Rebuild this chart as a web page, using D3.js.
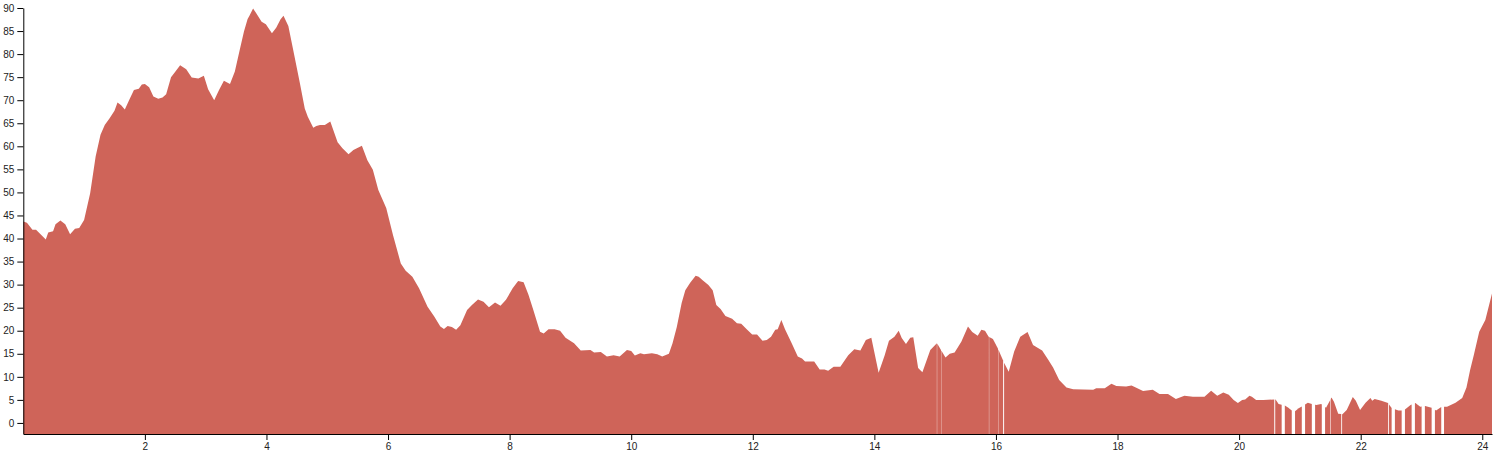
<!DOCTYPE html>
<html>
<head>
<meta charset="utf-8">
<script src="https://cdn.jsdelivr.net/npm/d3@7"></script>
<style>
  html, body { margin: 0; padding: 0; background: #fff; }
  svg { display: block; }
  .axis text { font-family: "Liberation Sans", Arial, sans-serif; font-size: 10px; fill: #222; }
</style>
</head>
<body>
<svg id="chart" width="1496" height="454"></svg>
<script>
// ---- data ----
const times = [
  0.00,0.06,0.15,0.21,0.37,0.41,0.49,0.53,0.61,0.69,0.77,0.85,0.92,1.00,1.10,1.19,1.27,1.34,1.42,1.50,
  1.55,1.61,1.67,1.74,1.82,1.90,1.95,2.00,2.07,2.14,2.22,2.29,2.35,2.43,2.49,2.58,2.68,2.77,2.88,2.97,
  3.04,3.14,3.22,3.30,3.40,3.48,3.56,3.63,3.69,3.72,3.78,3.85,3.92,3.99,4.09,4.16,4.23,4.28,4.36,4.44,
  4.55,4.63,4.68,4.77,4.82,4.88,4.96,5.05,5.17,5.25,5.35,5.43,5.57,5.66,5.75,5.84,5.97,6.08,6.21,6.29,
  6.40,6.51,6.65,6.76,6.86,6.92,6.98,7.05,7.12,7.19,7.30,7.38,7.48,7.57,7.66,7.76,7.85,7.94,8.05,8.14,
  8.23,8.31,8.39,8.50,8.56,8.64,8.74,8.83,8.92,9.06,9.17,9.33,9.39,9.50,9.60,9.71,9.81,9.93,10.00,10.06,
  10.15,10.21,10.34,10.43,10.51,10.62,10.68,10.75,10.83,10.89,10.97,11.06,11.11,11.18,11.27,11.34,11.40,11.47,11.55,11.66,
  11.74,11.81,11.90,11.99,12.07,12.16,12.23,12.30,12.37,12.41,12.47,12.53,12.64,12.74,12.81,12.86,13.01,13.10,13.18,13.24,
  13.33,13.44,13.57,13.67,13.77,13.86,13.95,14.07,14.17,14.24,14.33,14.40,14.45,14.52,14.59,14.64,14.72,14.79,14.92,15.03,
  15.17,15.24,15.32,15.43,15.54,15.61,15.70,15.76,15.82,15.88,15.95,16.03,16.14,16.21,16.30,16.40,16.52,16.61,16.76,16.86,
  16.94,17.04,17.16,17.27,17.60,17.65,17.79,17.90,17.98,18.14,18.23,18.30,18.42,18.58,18.69,18.83,18.96,19.10,19.24,19.43,
  19.54,19.64,19.74,19.83,19.91,19.98,20.05,20.10,20.17,20.21,20.28,20.40,20.60,20.65,20.75,20.81,20.90,20.98,21.05,21.13,
  21.20,21.27,21.35,21.43,21.52,21.56,21.63,21.70,21.77,21.87,21.92,21.99,22.08,22.16,22.19,22.23,22.34,22.45,22.51,22.62,
  22.71,22.82,22.90,22.98,23.06,23.17,23.24,23.33,23.42,23.56,23.67,23.74,23.80,23.86,23.95,24.05,24.16
];
const values = [
  43.7,43.4,41.9,41.9,39.8,41.3,41.6,43.1,43.9,43.1,40.9,42.1,42.3,44.0,49.8,57.8,62.5,64.6,66.1,67.7,
  69.5,68.9,68.0,70.0,72.2,72.5,73.4,73.5,72.8,70.8,70.3,70.6,71.3,75.0,76.0,77.6,76.7,74.9,74.7,75.3,
  72.4,70.0,72.2,74.2,73.5,76.2,80.9,84.9,87.6,88.3,89.9,88.5,87.0,86.5,84.5,85.7,87.5,88.3,86.1,80.9,
  73.7,68.2,66.4,64.0,64.4,64.6,64.6,65.4,60.9,59.6,58.3,59.2,60.1,57.0,54.9,50.5,46.6,40.8,34.6,33.0,
  31.7,29.2,25.2,23.1,20.9,20.4,21.0,20.8,20.2,21.2,24.5,25.6,26.8,26.3,25.1,26.1,25.4,26.7,29.2,30.8,
  30.5,27.8,24.5,19.8,19.4,20.3,20.3,20.0,18.5,17.3,15.7,15.8,15.3,15.4,14.4,14.7,14.4,15.8,15.6,14.6,
  15.1,14.9,15.1,14.9,14.4,15.0,17.3,20.8,26.0,28.8,30.4,31.9,31.7,30.9,29.9,28.8,25.6,24.7,23.2,22.6,
  21.6,21.5,20.3,19.2,19.2,17.8,18.0,18.7,20.2,20.3,22.3,20.3,17.3,14.4,14.0,13.3,13.3,11.6,11.6,11.3,
  12.2,12.2,14.7,16.0,15.7,18.0,18.5,10.9,14.7,17.8,18.7,20.0,18.4,17.1,18.5,18.6,11.9,11.0,15.8,17.3,
  14.2,15.0,15.3,17.6,20.9,19.7,18.9,20.2,20.0,18.7,18.2,16.2,12.9,11.1,15.5,18.7,19.7,16.9,15.7,13.7,
  12.0,9.3,7.7,7.3,7.2,7.5,7.5,8.5,8.0,7.9,8.1,7.7,6.9,7.2,6.3,6.3,5.2,5.9,5.7,5.7,
  7.0,5.9,6.6,6.1,5.0,4.3,5.0,5.1,5.9,5.7,5.0,5.0,5.1,4.1,3.8,3.3,2.3,3.2,3.7,4.4,
  4.1,3.9,4.1,3.3,5.5,4.6,2.0,1.9,2.8,5.6,4.8,2.8,4.4,5.4,4.8,5.2,4.8,4.3,3.2,2.7,
  2.7,3.9,4.3,3.5,3.7,3.3,2.7,3.5,3.5,4.4,5.4,7.7,11.5,14.7,19.8,22.3,28.1
];
// ranges of time with no samples (small holes in the series)
const gapStart = [15.028,15.096,15.884,16.034,16.118,20.578,20.700,20.866,21.031,21.196,21.360,21.499,21.680,22.452,22.509,22.674,22.838,23.002,23.167,23.325];
const gapEnd   = [15.033,15.101,15.889,16.039,16.134,20.594,20.752,20.920,21.085,21.250,21.414,21.507,21.694,22.466,22.563,22.728,22.892,23.056,23.221,23.371];
const xTickValues = [2,4,6,8,10,12,14,16,18,20,22,24];
const yTickValues = [0,5,10,15,20,25,30,35,40,45,50,55,60,65,70,75,80,85,90];

// ---- chart ----
const svg = d3.select("#chart");
const margin = {left: 23.3, right: 4, top: 8, bottom: 20};
const W = 1496, H = 454;
const x = d3.scaleLinear().domain([0, d3.max(times)]).range([margin.left, W - margin.right]);
const y = d3.scaleLinear().domain([-2.4, 90]).range([H - margin.bottom, margin.top]);

const data = times.map((t, i) => ({t, v: values[i]}));
const bis = d3.bisector(d => d.t).left;
function valueAt(t) {
  let i = bis(data, t);
  if (i <= 0) return data[0].v;
  if (i >= data.length) return data[data.length - 1].v;
  const a = data[i - 1], b = data[i];
  return a.v + (b.v - a.v) * (t - a.t) / (b.t - a.t);
}
// split into continuous segments around the holes
const segs = [];
let s = 0;
gapStart.forEach((g, k) => { segs.push([s, g]); s = gapEnd[k]; });
segs.push([s, d3.max(times)]);

const area = d3.area()
  .x(d => x(d.t))
  .y0(y(-2.4))
  .y1(d => y(d.v));

svg.append("g").selectAll("path")
  .data(segs)
  .join("path")
  .attr("fill", "#cf6459")
  .attr("d", ([a, b]) => {
    const pts = [{t: a, v: valueAt(a)}]
      .concat(data.filter(d => d.t > a && d.t < b))
      .concat([{t: b, v: valueAt(b)}]);
    return area(pts);
  });

svg.append("g")
  .attr("class", "axis")
  .attr("transform", `translate(0,${H - margin.bottom})`)
  .call(d3.axisBottom(x).tickValues(xTickValues).tickSizeOuter(0));

svg.append("g")
  .attr("class", "axis")
  .attr("transform", `translate(${margin.left},0)`)
  .call(d3.axisLeft(y).tickValues(yTickValues).tickSizeOuter(0));
</script>
</body>
</html>
